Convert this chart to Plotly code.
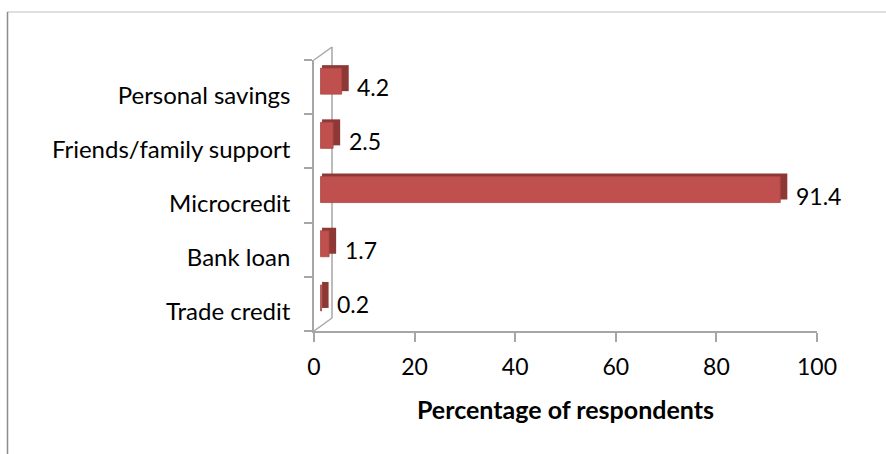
import plotly.graph_objects as go

# Data (bottom to top)
categories = ["Trade credit", "Bank loan", "Microcredit", "Friends/family support", "Personal savings"]
values = [0.2, 1.7, 91.4, 2.5, 4.2]
x_ticks = [0, 20, 40, 60, 80, 100]

FONT = "Lato"
GRAY = "#A6A6A6"
DEPTH = 1.3      # visual offset of the bar front faces (axis units)
BACK_SHIFT = 0.3 # offset of the back face relative to the front face
SIDE = 1.1       # extra length of the back face (side face look)

fig = go.Figure()
# back/top/side faces of the pseudo-3D bars
fig.add_trace(go.Bar(
    x=[v + SIDE for v in values], y=categories, orientation="h", base=DEPTH + BACK_SHIFT,
    width=0.48, offset=-0.075,
    marker=dict(color="#8E3836", line=dict(width=0)),
    hoverinfo="skip", showlegend=False,
))
# front faces
fig.add_trace(go.Bar(
    x=values, y=categories, orientation="h", base=DEPTH,
    width=0.48, offset=-0.13,
    marker=dict(color="#C0504D", line=dict(color="#A94543", width=0.8)),
    hoverinfo="y", showlegend=False,
))

annotations = []
for c, v in zip(categories, values):
    annotations.append(dict(
        x=v, y=c, xref="x", yref="y", text=f"{v:.1f}", showarrow=False,
        xanchor="left", yanchor="middle", xshift=20,
        font=dict(family=FONT, size=23, color="#000000"),
    ))

W, H = 886, 454
L, R, T, B = 314, 69, 60, 123
pw, ph = W - L - R, H - T - B

def px(xp):
    return (xp - L) / pw

def py(yp):
    return (H - B - yp) / ph

shapes = [
    # 3D wall lines
    dict(type="line", xref="paper", yref="paper", x0=px(332), y0=py(47), x1=px(332), y1=py(318),
         line=dict(color=GRAY, width=1.5), layer="below"),
    dict(type="line", xref="paper", yref="paper", x0=0, y0=1, x1=px(332), y1=py(47),
         line=dict(color=GRAY, width=1.5), layer="below"),
    dict(type="line", xref="paper", yref="paper", x0=0, y0=0, x1=px(332), y1=py(318),
         line=dict(color=GRAY, width=1.5), layer="below"),
    # chart border
    dict(type="line", xref="paper", yref="paper", x0=px(7), y0=py(12), x1=px(900), y1=py(12),
         line=dict(color="#BFBFBF", width=1.2)),
    dict(type="line", xref="paper", yref="paper", x0=px(7.5), y0=py(12), x1=px(7.5), y1=py(470),
         line=dict(color="#8C8C8C", width=1.5)),
]

fig.update_layout(
    width=W, height=H,
    margin=dict(l=L, r=R, t=T, b=B, pad=0),
    paper_bgcolor="white", plot_bgcolor="rgba(0,0,0,0)",
    font=dict(family=FONT, size=24, color="#000000"),
    barmode="overlay",
    annotations=annotations,
    shapes=shapes,
    xaxis=dict(
        range=[0, 100], tickvals=x_ticks, ticktext=[str(t) for t in x_ticks],
        showgrid=False, zeroline=False, showline=True, linecolor=GRAY, linewidth=1.5,
        ticks="outside", ticklen=9, tickcolor=GRAY, tickwidth=1.5,
        tickfont=dict(family=FONT, size=23, color="#000000"),
        ticklabelstandoff=6,
        title=dict(text="<b>Percentage of respondents</b>", standoff=22,
                   font=dict(family=FONT, size=25, color="#000000")),
    ),
    yaxis=dict(
        type="category", categoryorder="array", categoryarray=categories,
        range=[-0.5, 4.5],
        showgrid=False, zeroline=False, showline=True, linecolor=GRAY, linewidth=1.5,
        ticks="outside", ticklen=8, tickcolor=GRAY, tickwidth=1.5, tickson="boundaries",
        tickfont=dict(family=FONT, size=24, color="#000000"),
        ticklabelstandoff=17, ticklabelshift=8,
    ),
)

fig.write_html("out.html")
